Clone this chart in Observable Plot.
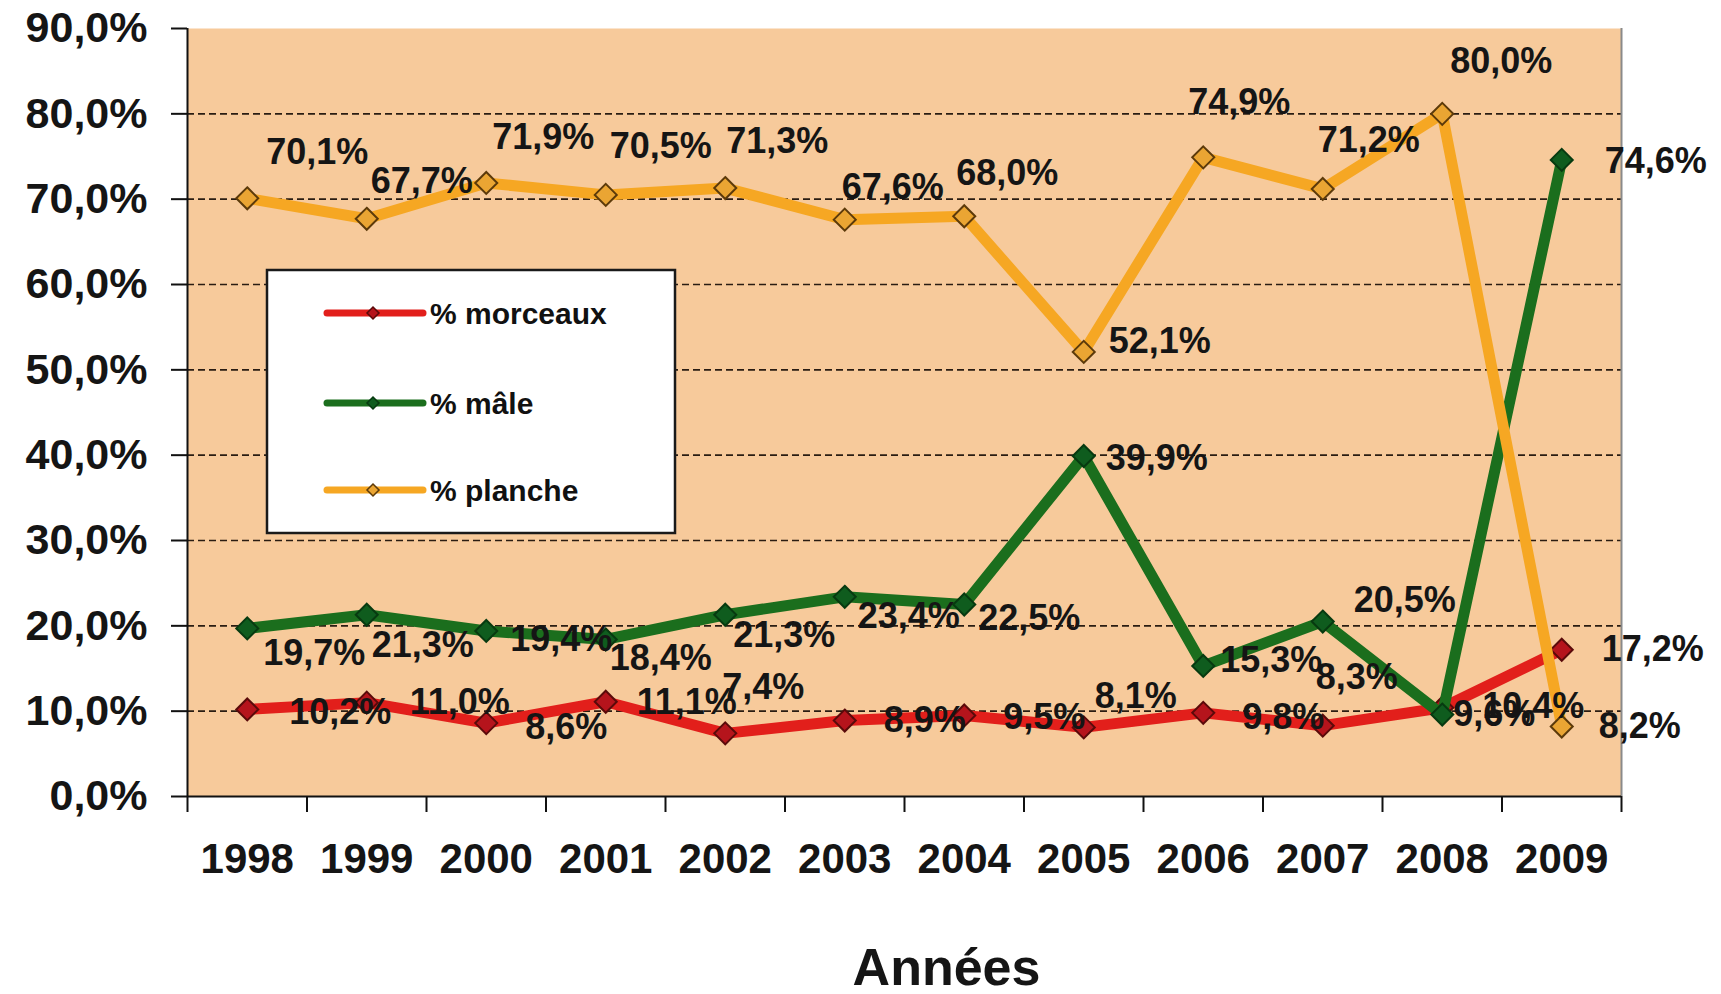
<!DOCTYPE html>
<html>
<head>
<meta charset="utf-8">
<script src="https://cdn.jsdelivr.net/npm/d3@7"></script>
<script src="https://cdn.jsdelivr.net/npm/@observablehq/plot@0.6"></script>
<style>
  html, body { margin: 0; padding: 0; background: #ffffff; }
  #chart { width: 1721px; height: 994px; }
</style>
</head>
<body>
<div id="chart"></div>
<script>
// ---- data ----
const years = [1998, 1999, 2000, 2001, 2002, 2003, 2004, 2005, 2006, 2007, 2008, 2009];
const morceaux = [10.2, 11.0, 8.6, 11.1, 7.4, 8.9, 9.5, 8.1, 9.8, 8.3, 10.4, 17.2];
const male     = [19.7, 21.3, 19.4, 18.4, 21.3, 23.4, 22.5, 39.9, 15.3, 20.5, 9.6, 74.6];
const planche  = [70.1, 67.7, 71.9, 70.5, 71.3, 67.6, 68.0, 52.1, 74.9, 71.2, 80.0, 8.2];
const seriesNames = ["% morceaux", "% mâle", "% planche"];
const yTicks = [0, 10, 20, 30, 40, 50, 60, 70, 80, 90];
const xTitle = "Années";

// ---- styles (layout, not data) ----
const lineColors   = ["#E21F1B", "#1B6E1D", "#F6A723"];
const markerFill   = ["#B5141C", "#0F5C1E", "#EAA533"];
const markerStroke = ["#5A0A0A", "#073A10", "#5C3A0A"];
// label pixel offsets from each point (dx, dy)
const offMorceaux = [[93,3],[93,0],[80,4],[81,1],[38,-46],[80,0],[80,2],[52,-31],[80,5],[34,-48],[91,-1],[91,0]];
const offMale     = [[67,25],[56,31],[75,9],[55,19],[59,21],[64,20],[65,14],[73,2],[68,-5],[82,-21],[52,0],[94,2]];
const offPlanche  = [[70,-46],[55,-37],[57,-45],[55,-48],[52,-47],[48,-32],[43,-43],[76,-10],[36,-55],[46,-48],[59,-52],[78,0]];

const seriesValues = [morceaux, male, planche];
const seriesOffsets = [offMorceaux, offMale, offPlanche];

const rowsBySeries = seriesValues.map((vals, s) =>
  years.map((year, i) => ({year, value: vals[i], series: seriesNames[s]}))
);

const fmtPct = v => v.toFixed(1).replace(".", ",") + "%";
const boundaries = years.map(y => y - 0.5).concat([years[years.length - 1] + 0.5]);

// square-rotated diamond like Excel's marker
const diamondSym = {
  draw(context, size) {
    const r = Math.sqrt(size / Math.PI);
    context.moveTo(0, -r);
    context.lineTo(r, 0);
    context.lineTo(0, r);
    context.lineTo(-r, 0);
    context.closePath();
  }
};

const font = "'Liberation Sans', Arial, Helvetica, sans-serif";

const marks = [
  Plot.frame({fill: "#F7CA9B", stroke: null}),
  Plot.ruleY(yTicks.filter(t => t > 0 && t < 90), {stroke: "#2a1c12", strokeWidth: 1.6, strokeDasharray: "7,4"}),
  Plot.ruleX([boundaries[boundaries.length - 1]], {stroke: "#8a8a8a", strokeWidth: 2}),
];

// lines, then markers, in Excel series order (planche on top)
rowsBySeries.forEach((rows, s) => {
  marks.push(Plot.line(rows, {x: "year", y: "value", stroke: lineColors[s], strokeWidth: 11, strokeLinejoin: "miter"}));
  marks.push(Plot.dot(rows, {x: "year", y: "value", symbol: diamondSym, r: 11, fill: markerFill[s], stroke: markerStroke[s], strokeWidth: 2}));
});

// data labels
rowsBySeries.forEach((rows, s) => {
  rows.forEach((row, i) => {
    const [dx, dy] = seriesOffsets[s][i];
    marks.push(Plot.text([row], {
      x: "year", y: "value", text: d => fmtPct(d.value),
      dx, dy, fontSize: 36, fontWeight: "bold", fill: "#151515",
      textAnchor: "middle", lineAnchor: "middle"
    }));
  });
});

// axes
marks.push(
  Plot.ruleX([boundaries[0]], {stroke: "#111", strokeWidth: 2}),
  Plot.ruleY([0], {stroke: "#111", strokeWidth: 2}),
  Plot.axisY({ticks: yTicks, tickSize: 16, tickPadding: 24, tickFormat: fmtPct,
    fontSize: 43, fontWeight: "bold", fill: "#151515", stroke: "#111", strokeWidth: 2, label: null}),
  Plot.axisX({ticks: boundaries, tickSize: 16, tickFormat: () => "", stroke: "#111", strokeWidth: 2, label: null}),
  Plot.axisX({ticks: years, tickSize: 0, tickPadding: 47, tickFormat: d => String(d),
    fontSize: 42, fontWeight: "bold", fill: "#151515", label: null}),
  Plot.text([xTitle], {frameAnchor: "bottom", text: d => d, dx: 42, dy: 172,
    fontSize: 52, fontWeight: "bold", fill: "#151515", lineAnchor: "middle"})
);

const chart = Plot.plot({
  width: 1721,
  height: 994,
  marginLeft: 187,
  marginRight: 100,
  marginTop: 28,
  marginBottom: 198,
  style: {fontFamily: font, background: "#ffffff", color: "#151515", overflow: "visible"},
  x: {type: "linear", domain: [boundaries[0], boundaries[boundaries.length - 1]], axis: null},
  y: {type: "linear", domain: [yTicks[0], yTicks[yTicks.length - 1]], axis: null},
  marks
});

document.getElementById("chart").appendChild(chart);

// ---- legend (drawn inside the SVG) ----
const svg = d3.select(chart.tagName.toLowerCase() === "svg" ? chart : chart.querySelector("svg"));
const lg = svg.append("g").attr("transform", "translate(267,270)").attr("text-anchor", "start");
lg.append("rect").attr("x", 0).attr("y", 0).attr("width", 408).attr("height", 263)
  .attr("fill", "#ffffff").attr("stroke", "#1a1a1a").attr("stroke-width", 2.5);
const itemY = [43, 133, 220];
seriesNames.forEach((name, s) => {
  const g = lg.append("g").attr("transform", `translate(0,${itemY[s]})`);
  g.append("line").attr("x1", 60).attr("x2", 156).attr("y1", 0).attr("y2", 0)
    .attr("stroke", lineColors[s]).attr("stroke-width", 7).attr("stroke-linecap", "round");
  g.append("path").attr("d", "M106,-6L112,0L106,6L100,0Z")
    .attr("fill", markerFill[s]).attr("stroke", markerStroke[s]).attr("stroke-width", 1.5);
  g.append("text").attr("x", 163).attr("y", 0).attr("dy", "0.35em")
    .attr("text-anchor", "start")
    .attr("font-family", font).attr("font-size", 30).attr("font-weight", "bold")
    .attr("fill", "#111").text(name);
});
</script>
</body>
</html>
